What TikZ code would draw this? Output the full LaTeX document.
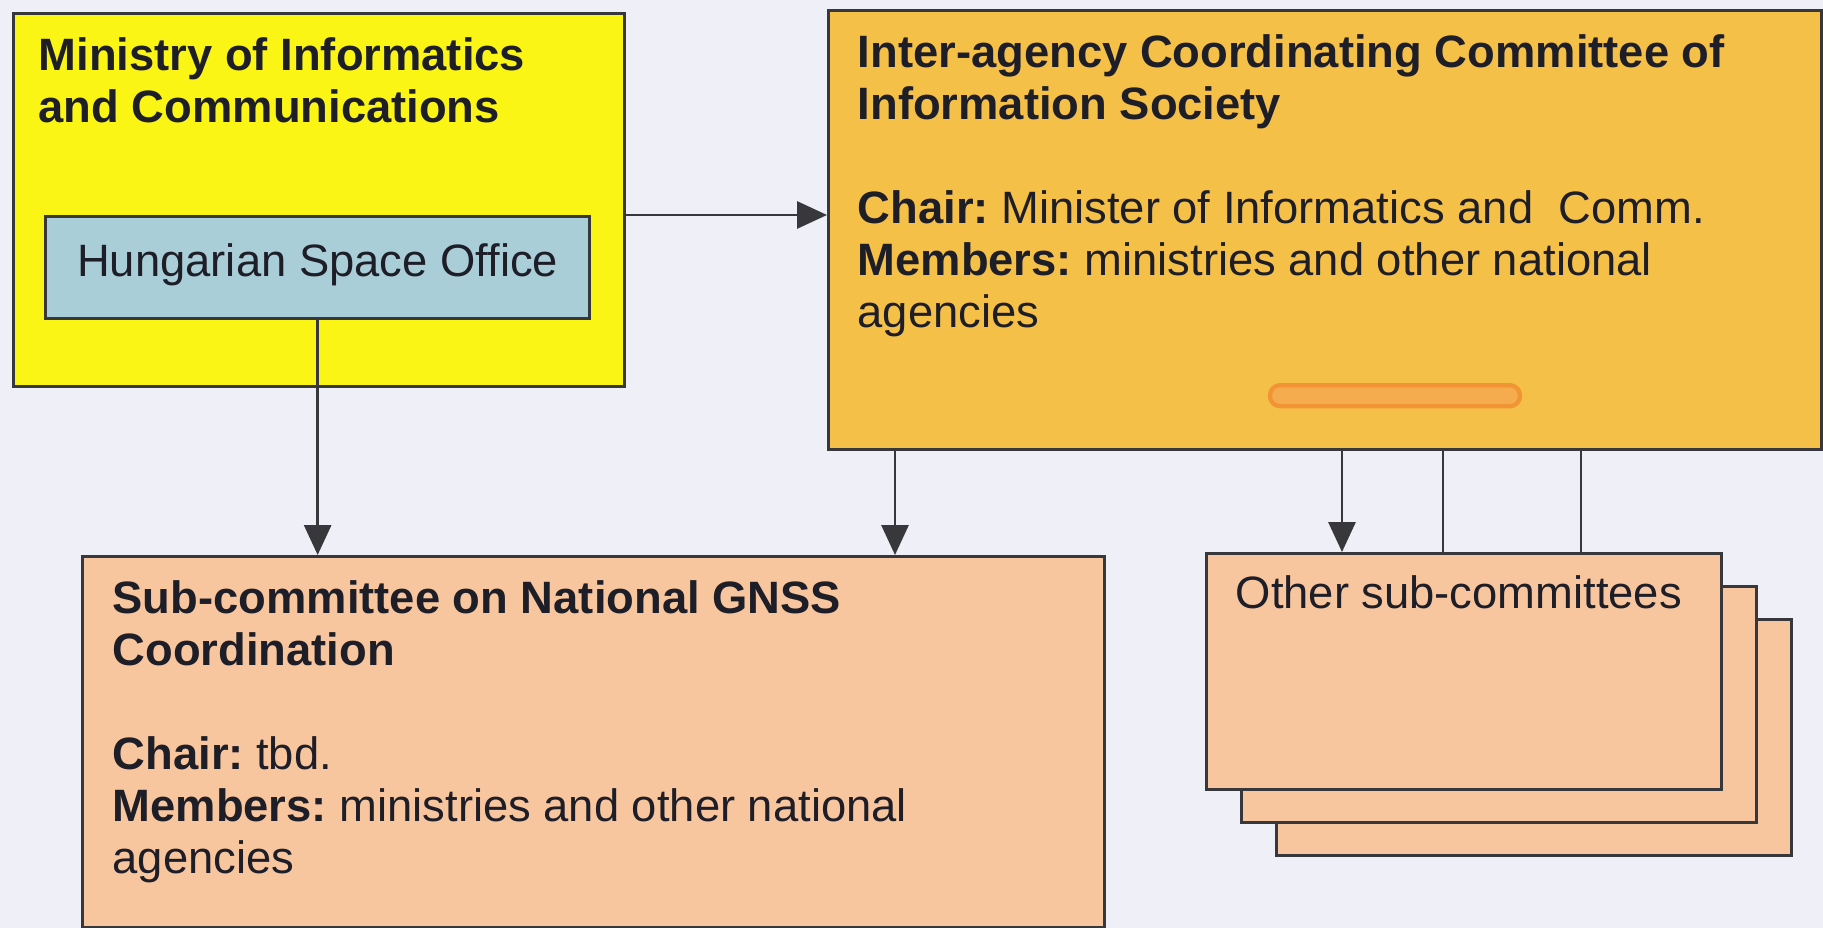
\documentclass[tikz,border=0pt]{standalone}
\usepackage{fontspec}
\setmainfont{Liberation Sans}
\usetikzlibrary{arrows.meta,calc}
\frenchspacing
\definecolor{bgcol}{RGB}{239,240,247}
\definecolor{ministrycol}{RGB}{250,245,20}
\definecolor{officecol}{RGB}{170,206,216}
\definecolor{iacccol}{RGB}{245,192,72}
\definecolor{subcol}{RGB}{248,198,158}
\definecolor{pillcol}{RGB}{245,172,78}
\definecolor{pilledge}{RGB}{240,148,52}
\definecolor{edgecol}{RGB}{55,55,60}
\definecolor{inkcol}{RGB}{30,30,40}

\begin{document}
\begin{tikzpicture}[x=0.01cm,y=-0.01cm,
  box/.style={draw=edgecol,line width=0.85pt,inner sep=0pt,anchor=north west},
  txt/.style={anchor=north west,align=left,inner sep=0pt,text=inkcol,font=\fontsize{12.9}{14.8}\selectfont},
  arr/.style={draw=edgecol,line width=0.7pt,-{Triangle[length=8.5pt,width=7.7pt]}},
  ln/.style={draw=edgecol,line width=0.7pt}]
\fill[bgcol] (0,0) rectangle (1823,928);
\useasboundingbox (0,0) rectangle (1823,928);

\node[box,fill=ministrycol,minimum width=6.11cm,minimum height=3.73cm] (ministry) at (12,12) {};
\node[box,fill=officecol,minimum width=5.44cm,minimum height=1.02cm,text=inkcol,
  font=\fontsize{12.9}{14.8}\selectfont,text depth=0.4em] (office) at (44,215) {Hungarian Space Office};
\node[box,fill=iacccol,minimum width=9.92cm,minimum height=4.39cm] (iacc) at (827,9) {};
\draw[pilledge,fill=pillcol,line width=1.2pt,rounded corners=0.1cm]
  ($(iacc.south west)+(443,-66)$) rectangle ($(iacc.south west)+(693,-45)$);
\node[box,fill=subcol,minimum width=10.21cm,minimum height=3.71cm] (gnss) at (81,555) {};
\node[box,fill=subcol,minimum width=5.15cm,minimum height=2.36cm] (other3) at (1275,618) {};
\node[box,fill=subcol,minimum width=5.15cm,minimum height=2.36cm] (other2) at (1240,585) {};
\node[box,fill=subcol,minimum width=5.15cm,minimum height=2.36cm] (other1) at (1205,552) {};

\node[txt] (ministrytext) at ($(ministry.north west)+(26,25)$)
  {\textbf{Ministry of Informatics}\\\textbf{and Communications}};
\node[txt] (iacctext) at ($(iacc.north west)+(30,25)$)
  {\textbf{Inter-agency Coordinating Committee of}\\\textbf{Information Society}\\[14.8pt]
   \textbf{Chair:} Minister of Informatics and\ \ Comm.\\
   \textbf{Members:} ministries and other national\\agencies};
\node[txt] (gnsstext) at ($(gnss.north west)+(31,25)$)
  {\textbf{Sub-committee on National GNSS}\\\textbf{Coordination}\\[14.8pt]
   \textbf{Chair:} tbd.\\
   \textbf{Members:} ministries and other national\\agencies};
\node[txt] (othertext) at ($(other1.north west)+(30,23)$) {Other sub-committees};

\draw[arr] (office.north -| ministry.east) -- (office.north -| iacc.west);
\draw[arr] (office.south) -- (office.south |- gnss.north);
\draw[arr] ($(iacc.south west)+(68,0)$) coordinate (down1) -- (down1 |- gnss.north);
\draw[arr] ($(iacc.south west)+(515,0)$) coordinate (down2) -- (down2 |- other1.north);
\draw[ln] ($(iacc.south west)+(616,0)$) coordinate (down3) -- (down3 |- other1.north);
\draw[ln] ($(iacc.south west)+(754,0)$) coordinate (down4) -- (down4 |- other1.north);
\end{tikzpicture}
\end{document}
